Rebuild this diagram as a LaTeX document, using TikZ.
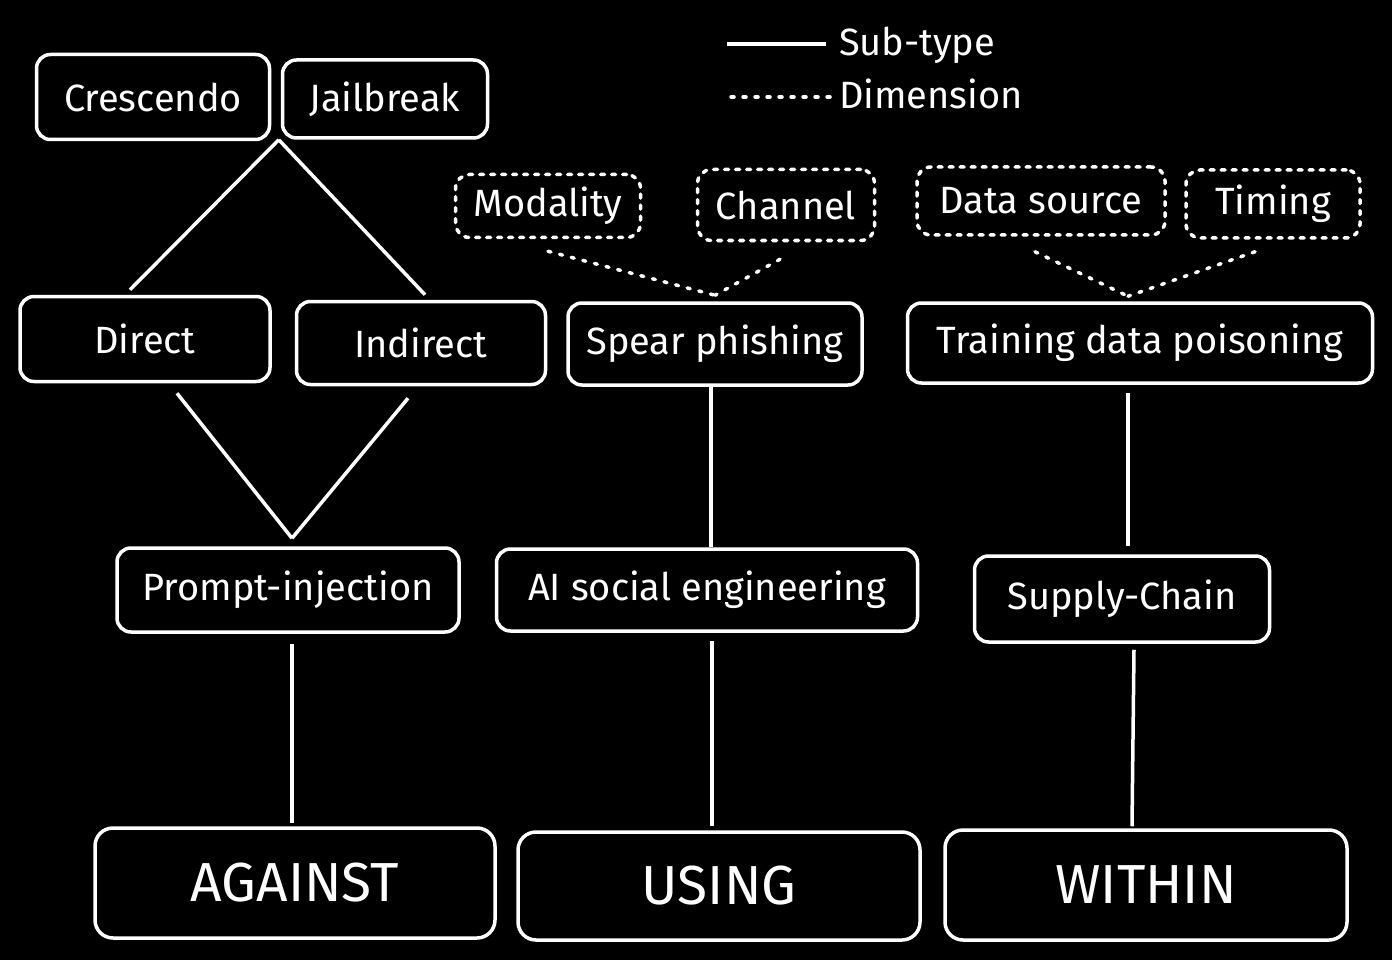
\documentclass[tikz,border=0pt]{standalone}
\usepackage{fontspec}
\setmainfont{Fira Sans}
\begin{document}
\begin{tikzpicture}[x=1pt,y=-1pt,
  every path/.style={white,line width=3.5pt},
  box/.style={draw=white,line width=3.5pt,rounded corners=14pt,text=white,font=\fontsize{38}{44}\selectfont,inner sep=0pt},
  dbox/.style={box,dash pattern=on 4pt off 7pt,line cap=round},
  big/.style={box,font=\fontsize{55}{62}\selectfont,rounded corners=18pt},
  dot/.style={line width=3.5pt,dash pattern=on 3pt off 9pt,line cap=round}]
\fill[black] (0,0) rectangle (1392,960);
\useasboundingbox (0,0) rectangle (1392,960);
\node[box,minimum width=233pt,minimum height=85pt] (cres) at (153,97) {Crescendo};
\node[box,minimum width=205pt,minimum height=78pt] (jail) at (385,99) {Jailbreak};
\node[dbox,minimum width=185pt,minimum height=63pt] (mod) at (548,206) {Modality};
\node[dbox,minimum width=177pt,minimum height=71pt] (chan) at (786,205) {Channel};
\node[dbox,minimum width=248pt,minimum height=68pt] (ds) at (1041,201) {Data source};
\node[dbox,minimum width=174pt,minimum height=68pt] (tim) at (1273,204) {Timing};
\node[box,minimum width=250pt,minimum height=85pt] (dir) at (145,339) {Direct};
\node[box,minimum width=249pt,minimum height=83pt] (ind) at (421,343) {Indirect};
\node[box,minimum width=294pt,minimum height=82pt] (sp) at (715,344) {Spear phishing};
\node[box,minimum width=465pt,minimum height=80pt] (tdp) at (1140,343) {Training data poisoning};
\node[box,minimum width=342pt,minimum height=84pt] (pi) at (288,590) {Prompt-injection};
\node[box,minimum width=421pt,minimum height=82pt] (ai) at (707,590) {AI social engineering};
\node[box,minimum width=295pt,minimum height=86pt] (sc) at (1122,599) {Supply-Chain};
\node[big,minimum width=400pt,minimum height=110pt] (ag) at (295,883) {AGAINST};
\node[big,minimum width=402pt,minimum height=108pt] (us) at (719,886) {USING};
\node[big,minimum width=402pt,minimum height=110pt] (wi) at (1146,885) {WITHIN};
% connectors
\draw ([xshift=-2pt]jail.south west) -- ([xshift=-15pt,yshift=5pt]dir.north);
\draw ([xshift=-2pt]jail.south west) -- ([xshift=4pt,yshift=5pt]ind.north);
\draw ([xshift=32pt,yshift=-10pt]dir.south) -- ([xshift=4pt,yshift=8pt]pi.north);
\draw ([xshift=-13pt,yshift=-12pt]ind.south) -- ([xshift=4pt,yshift=8pt]pi.north);
\draw ([xshift=-4pt]sp.south) -- ([xshift=4pt]ai.north);
\draw ([xshift=5pt,yshift=-8pt]ai.south) -- ([xshift=-7pt,yshift=4pt]us.north);
\draw ([xshift=4pt,yshift=-10pt]pi.south) -- ([xshift=-3pt,yshift=3pt]ag.north);
\draw ([xshift=-12pt,yshift=-8pt]tdp.south) -- ([xshift=6pt,yshift=8pt]sc.north);
\draw ([xshift=12pt,yshift=-6pt]sc.south) -- ([xshift=-14pt,yshift=2pt]wi.north);
\draw[dot] ([yshift=-12pt]mod.south) -- ([yshift=6pt]sp.north);
\draw[dot] ([xshift=-6pt,yshift=-17pt]chan.south) -- ([yshift=6pt]sp.north);
\draw[dot] ([xshift=-6pt,yshift=-15pt]ds.south) -- ([xshift=-12pt,yshift=5pt]tdp.north);
\draw[dot] ([xshift=-18pt,yshift=-12pt]tim.south) -- ([xshift=-12pt,yshift=5pt]tdp.north);
% legend
\coordinate (l1a) at (727,44); \coordinate (l1b) at (826,44);
\coordinate (l2a) at (731,97); \coordinate (l2b) at (830,97);
\draw (l1a) -- (l1b);
\draw[dot] (l2a) -- (l2b);
\node[text=white,anchor=west,font=\fontsize{38}{44}\selectfont] (t1) at (834,45) {Sub-type};
\node[text=white,anchor=west,font=\fontsize{38}{44}\selectfont] (t2) at (834,94) {Dimension};
\end{tikzpicture}
\end{document}
